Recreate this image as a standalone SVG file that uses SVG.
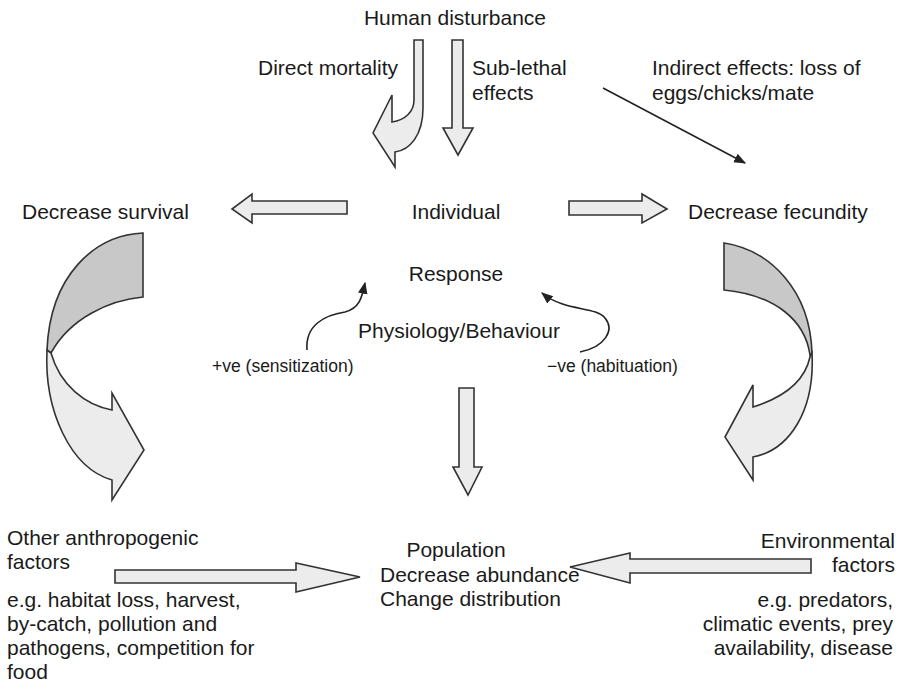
<svg xmlns="http://www.w3.org/2000/svg" width="908" height="699" viewBox="0 0 908 699">
  <style>
    text { font-family: "Liberation Sans", Arial, sans-serif; font-size: 21px; fill: #1a1a1a; }
    .sm { font-size: 17.5px; }
    .blk { fill: #ececec; stroke: #333; stroke-width: 1.6; stroke-linejoin: miter; }
    .dark { fill: #c8c8c8; stroke: #333; stroke-width: 1.6; }
    .thin { fill: none; stroke: #222; stroke-width: 1.6; }
  </style>
  <defs>
    <marker id="tip" viewBox="0 0 10 10" refX="9" refY="5" markerWidth="7" markerHeight="7" orient="auto" markerUnits="userSpaceOnUse">
      <path d="M0,0 L10,5 L0,10 Z" fill="#222"/>
    </marker>
    <marker id="tipS" viewBox="0 0 10 10" refX="9" refY="5" markerWidth="12" markerHeight="12" orient="auto" markerUnits="userSpaceOnUse">
      <path d="M0,1 L10,5 L0,9 Z" fill="#222"/>
    </marker>
  </defs>

  <rect width="908" height="699" fill="#ffffff"/>

  <g id="human-disturbance">
    <text x="455" y="25" text-anchor="middle">Human disturbance</text>
  </g>

  <g id="labels-top">
    <text x="398" y="75" text-anchor="end">Direct mortality</text>
    <text x="472" y="75">Sub-lethal</text>
    <text x="472" y="100">effects</text>
    <text x="652" y="75">Indirect effects: loss of</text>
    <text x="652" y="100">eggs/chicks/mate</text>
  </g>

  <g id="individual">
    <text x="456" y="219" text-anchor="middle">Individual</text>
    <text x="456" y="281" text-anchor="middle">Response</text>
    <text x="358" y="338">Physiology/Behaviour</text>
  </g>

  <g id="decrease-survival">
    <text x="22" y="219">Decrease survival</text>
  </g>

  <g id="decrease-fecundity">
    <text x="688" y="219">Decrease fecundity</text>
  </g>

  <g id="sensitization">
    <text class="sm" x="212" y="372">+ve (sensitization)</text>
  </g>

  <g id="habituation">
    <text class="sm" x="547" y="372">−ve (habituation)</text>
  </g>

  <g id="population">
    <text x="456" y="557" text-anchor="middle">Population</text>
    <text x="380" y="582">Decrease abundance</text>
    <text x="380" y="606">Change distribution</text>
  </g>

  <g id="other-anthropogenic">
    <text x="7" y="545">Other anthropogenic</text>
    <text x="7" y="569">factors</text>
    <text x="7" y="607">e.g. habitat loss, harvest,</text>
    <text x="7" y="631">by-catch, pollution and</text>
    <text x="7" y="655">pathogens, competition for</text>
    <text x="7" y="679">food</text>
  </g>

  <g id="environmental">
    <text x="895" y="548" text-anchor="end">Environmental</text>
    <text x="895" y="572" text-anchor="end">factors</text>
    <text x="893" y="607" text-anchor="end">e.g. predators,</text>
    <text x="893" y="631" text-anchor="end">climatic events, prey</text>
    <text x="893" y="655" text-anchor="end">availability, disease</text>
  </g>

  <g id="connectors">
    <!-- direct mortality: bent block arrow -->
    <path class="blk" d="M414,40 L423,40 L423,108 C423,135 410,150 395,152 L395,167 L373,133 L392,95 L392,122 C405,120 414,112 414,100 Z"/>
    <!-- sub-lethal effects -->
    <path class="blk" d="M452,40 L463,40 L463,128 L473,128 L458,155 L443,128 L452,128 Z"/>
    <!-- indirect effects -->
    <line class="thin" x1="603" y1="88" x2="745" y2="163" marker-end="url(#tipS)"/>

    <!-- individual to decrease survival / fecundity -->
    <path class="blk" d="M347,201 L252,201 L252,194 L232,209 L252,223 L252,214 L347,214 Z"/>
    <path class="blk" d="M569,201 L642,201 L642,194 L667,209 L642,223 L642,215 L569,215 Z"/>

    <!-- response to population -->
    <path class="blk" d="M459,388 L474,388 L474,467 L482,467 L468,495 L453,467 L459,467 Z"/>

    <!-- feedback loops -->
    <path class="thin" d="M307,350 C305,325 325,315 345,312 C360,308 362,297 365,283" marker-end="url(#tipS)"/>
    <path class="thin" d="M580,352 C605,347 615,330 605,318 C595,306 565,312 542,293" marker-end="url(#tipS)"/>

    <!-- decrease survival to other anthropogenic factors -->
    <path class="dark" d="M143,233 L143,297 C110,300 70,318 51,353 L47,350 C50,275 95,235 143,233 Z"/>
    <path class="blk" d="M47,350 C44,410 70,468 112,480 L112,500 L144,450 L112,393 L112,410 C85,405 60,385 51,353 Z"/>

    <!-- decrease fecundity to environmental factors -->
    <path class="dark" d="M724,243 C770,250 810,290 812,353 L810,355 C805,320 775,295 724,290 Z"/>
    <path class="blk" d="M812,353 C815,410 790,450 753,457 L753,480 L725,437 L753,385 L753,407 C785,397 805,380 810,357 Z"/>

    <!-- factors to population -->
    <path class="blk" d="M115,570 L296,570 L296,563 L360,577 L296,592 L296,583 L115,583 Z"/>
    <path class="blk" d="M811,559 L630,559 L630,553 L570,567 L630,583 L630,573 L811,573 Z"/>
  </g>
</svg>
